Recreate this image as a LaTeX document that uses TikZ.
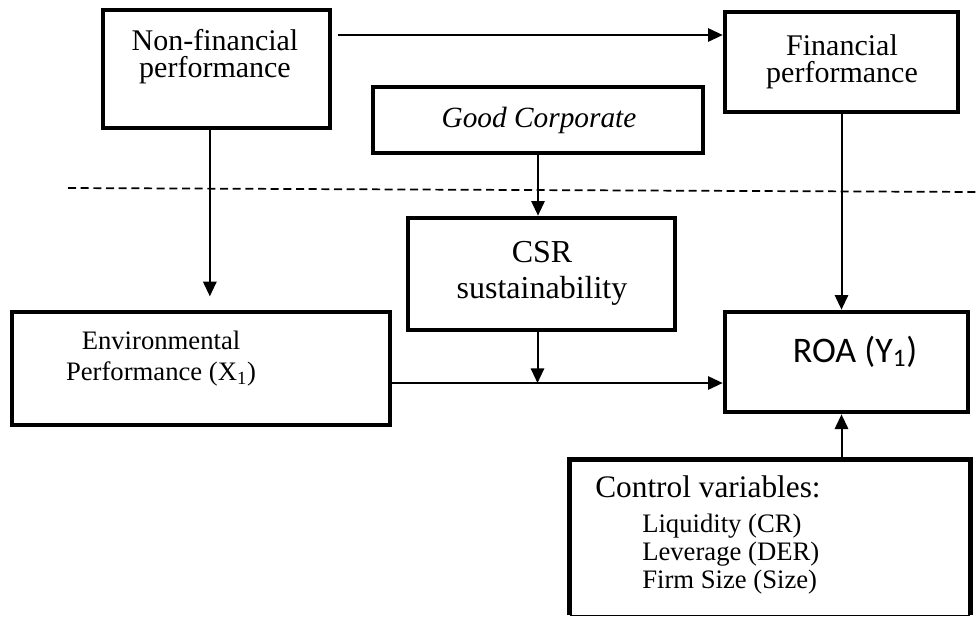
\documentclass[tikz,border=0pt]{standalone}
\usepackage{fontspec}
\setmainfont{Liberation Serif}
\newfontfamily\roafont{Carlito}
\usetikzlibrary{arrows.meta}

\begin{document}
\begin{tikzpicture}[x=0.75pt, y=-0.75pt,
    box/.style={shape=rectangle, draw, line width=3.5pt, inner sep=0},
    lbl/.style={inner sep=0, align=center},
    arr/.style={line width=1.5pt, -{Triangle[length=11pt, width=10pt]}}]
  \useasboundingbox (0,0) rectangle (980,619);
  % Boxes:
  \node[box, minimum width=170.25pt, minimum height=88.5pt] (nonfin) at (216.5, 69) {};
  \node[box, minimum width=174.75pt, minimum height=75pt] (fin) at (841.5, 62) {};
  \node[box, minimum width=247.5pt, minimum height=49.5pt] (goodcorp) at (538, 120) {};
  \node[box, minimum width=200.25pt, minimum height=84pt] (csr) at (541.5, 274) {};
  \node[box, minimum width=283.5pt, minimum height=84.75pt] (env) at (201, 368.5) {};
  \node[box, minimum width=182.25pt, minimum height=75pt] (roa) at (846.5, 362) {};
  \node[box, draw=none, minimum width=297pt, minimum height=113.25pt] (ctrl) at (770, 537.5) {};
  % control box: cut off at the bottom, so the last edge is thin
  \draw[line width=3.5pt] (ctrl.south west) -- (ctrl.north west) -- (ctrl.north east) -- (ctrl.south east);
  \draw[line width=1pt] (ctrl.south west) -- (ctrl.south east);
  % Texts (multi-line nodes sit on their last baseline):
  \node[lbl, anchor=base, font=\fontsize{22.5}{20.25}\selectfont] (nonfin-text) at (215, 77) {Non-financial\\performance};
  \node[lbl, anchor=base, font=\fontsize{22.5}{20.25}\selectfont] (fin-text) at (842, 82) {Financial\\performance};
  \node[lbl, anchor=base, font=\fontsize{22}{22}\selectfont\itshape] (goodcorp-text) at (539, 127) {Good Corporate};
  \node[lbl, anchor=base, font=\fontsize{24}{27}\selectfont] (csr-text) at (542, 298) {CSR\\sustainability};
  \node[lbl, anchor=base, font=\fontsize{20}{23.25}\selectfont] (env-text) at (161, 380) {Environmental\\Performance (X\textsubscript{1})};
  \node[lbl, anchor=base, font=\fontsize{27}{30}\selectfont\roafont] (roa-text) at (855, 362) {ROA (Y\textsubscript{1})};
  \node[lbl, anchor=base west, font=\fontsize{23.5}{26}\selectfont] (ctrl-head) at (595, 497) {Control variables:};
  \node[lbl, align=left, anchor=base west, font=\fontsize{20}{21}\selectfont] (ctrl-list) at (642, 588) {Liquidity (CR)\\Leverage (DER)\\Firm Size (Size)};
  % Helper points:
  \coordinate (toprow) at (0, 35);
  \coordinate (flow) at (0, 383);
  \coordinate (dash-l) at (68, 188);
  \coordinate (dash-r) at (980, 192);
  % Wires:
  \draw[line width=1.3pt, dash pattern=on 6pt off 3.5pt] (dash-l) -- (dash-r);
  \draw[arr] ([xshift=4pt]nonfin.east |- toprow) -- (fin.west |- toprow);
  \draw[arr, shorten >=10pt] ([xshift=-5pt]nonfin.south) -- ([xshift=-5pt]nonfin.south |- env.north);
  \draw[arr] (goodcorp.south) -- (goodcorp.south |- csr.north);
  \draw[arr] (fin.south) -- (fin.south |- roa.north);
  \draw[line width=1.5pt] (env.east |- flow) -- (csr.south |- flow);
  \draw[arr] (csr.south |- flow) -- (roa.west |- flow);
  \draw[arr] ([xshift=-3pt]csr.south) -- ([xshift=-3pt]csr.south |- flow);
  \draw[arr] (ctrl.north -| fin.south) -- (fin.south |- roa.south);
\end{tikzpicture}
\end{document}
